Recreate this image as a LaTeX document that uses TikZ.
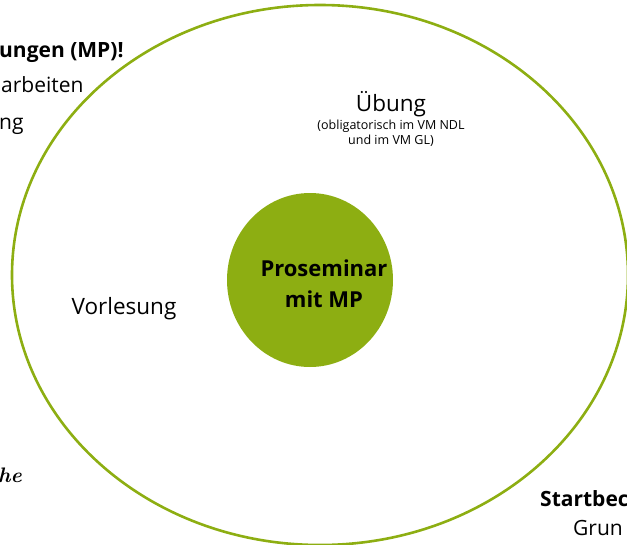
\documentclass[tikz,border=0pt]{standalone}
\usepackage{fontspec}
\setsansfont{Open Sans}
\usetikzlibrary{shapes.geometric}
\definecolor{mpgreen}{RGB}{141,174,18}

\begin{document}
\begin{tikzpicture}[
		x=1pt, y=-1pt,
		every node/.style={font=\sffamily, inner sep=0pt},
		ring/.style={ellipse, draw=mpgreen, line width=2.6pt, minimum width=616pt, minimum height=540pt},
		core/.style={ellipse, fill=mpgreen, minimum width=166pt, minimum height=174pt},
		coretext/.style={align=center, font=\sffamily\bfseries\fontsize{22}{31}\selectfont},
		label/.style={font=\sffamily\fontsize{22.5}{26}\selectfont},
		note/.style={align=center, font=\sffamily\fontsize{12.5}{15}\selectfont},
		edge/.style={anchor=base west, font=\sffamily\fontsize{21}{24}\selectfont}
		]
		\useasboundingbox (0,0) rectangle (627,544);
		\clip (0,0) rectangle (627,544);
		\node[ring] (outer) at (320,275) {};
		\node[core] (core) at (310,280) {};
		\node[coretext] (title) at (324,284) {Proseminar\\mit MP};
		\node[label] (uebung) at (391,104) {Übung};
		\node[note, anchor=north] (pflicht) at (391,120) {(obligatorisch im VM NDL\\und im VM GL)};
		\node[label] (vorlesung) at (124,309) {Vorlesung};
		% Reste vom Rand der Folie
		\node[edge, font=\sffamily\bfseries\fontsize{21}{24}\selectfont] (frag1) at (-1,57) {ungen (MP)!};
		\node[edge] (frag2) at (1,92) {arbeiten};
		\node[edge] (frag3) at (-1,129) {ng};
		\node[edge, font=\rmfamily\bfseries\itshape\fontsize{21}{24}\selectfont] (frag4) at (-2,482) {he};
		\node[edge, font=\sffamily\bfseries\fontsize{21}{24}\selectfont] (frag5) at (540,506) {Startbec};
		\node[edge] (frag6) at (573,535) {Grun};
		\end{tikzpicture}
\end{document}
